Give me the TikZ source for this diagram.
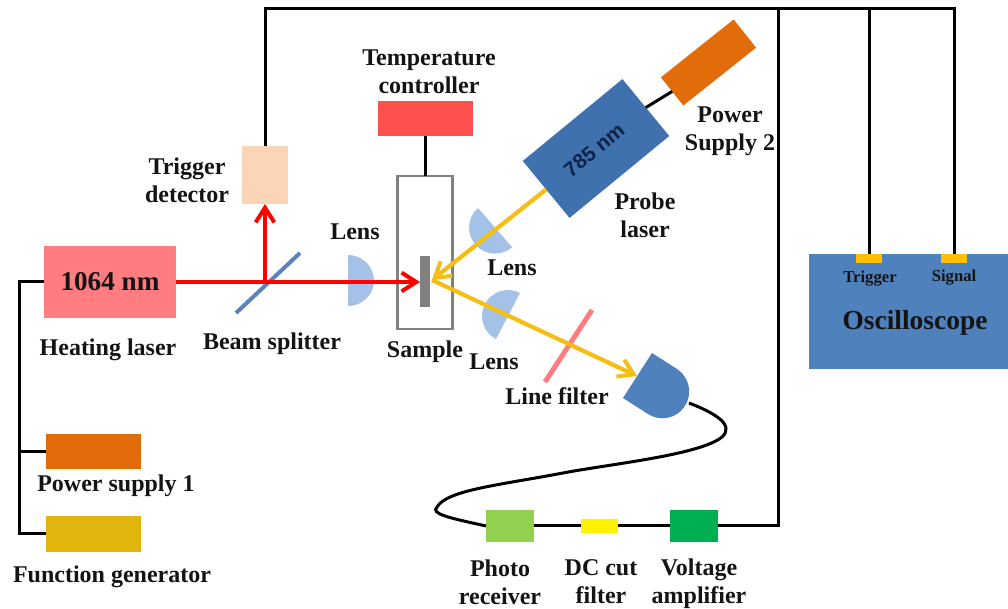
\documentclass[tikz,border=0pt]{standalone}
\usepackage{fontspec}
\setmainfont{Liberation Serif}
\setsansfont{Liberation Sans}
\usetikzlibrary{arrows.meta}
\def\px{0.75pt}
\definecolor{heatc}{HTML}{FF7C80}
\definecolor{orangec}{HTML}{E36C0A}
\definecolor{goldc}{HTML}{E0B50E}
\definecolor{probec}{HTML}{3F71AE}
\definecolor{scopec}{HTML}{4F81BD}
\definecolor{lensc}{HTML}{A4C2E8}
\definecolor{detc}{HTML}{4F81BD}
\definecolor{beamy}{HTML}{F5BE14}
\definecolor{tabc}{HTML}{FFC000}
\definecolor{peach}{HTML}{FBD5B5}
\definecolor{tempc}{HTML}{FF5050}
\definecolor{rxc}{HTML}{92D050}
\definecolor{ampc}{HTML}{00B050}
\definecolor{splitc}{HTML}{5B83B8}
\tikzset{
  lbl/.style={font=\fontsize{18}{21}\selectfont\bfseries, align=center, inner sep=0pt, text=black!92},
  solid box/.style={inner sep=0pt, outer sep=0pt, draw=none},
  wire/.style={draw=black, line width=3*\px, line join=miter},
  redbeam/.style={draw=red, line width=4*\px, -{Straight Barb[length=11pt,width=14pt,line width=3pt]}},
  yelbeam/.style={draw=beamy, line width=4.2*\px, -{Straight Barb[length=11pt,width=14pt,line width=3pt]}},
  lens/.style={fill=lensc, draw=none}
}
\begin{document}
\begin{tikzpicture}[x=0.75pt,y=-0.75pt]
\useasboundingbox (0,0) rectangle (1008,609);
% coordinates of wires
\coordinate (topA) at (265,9);
\coordinate (topB) at (778,9);
\coordinate (topC) at (869,9);
\coordinate (topD) at (954,9);
\coordinate (cornerB) at (778,526);
\coordinate (jl1) at (19,282);
\coordinate (jl2) at (19,451.5);
\coordinate (jl3) at (19,534);
\coordinate (hit) at (432,280);
\coordinate (bsp) at (265,282);
\coordinate (detout) at (689,403);
\coordinate (detin) at (637,376);
\coordinate (sampfront) at (420,282);
% boxes
\node[solid box, fill=heatc, minimum width=132*\px, minimum height=72*\px] (heat) at (110,282) {};
\node[solid box, fill=orangec, minimum width=95*\px, minimum height=35*\px] (ps1) at (93.5,451.5) {};
\node[solid box, fill=goldc, minimum width=95*\px, minimum height=36*\px] (gen) at (93.5,534) {};
\node[solid box, fill=peach, minimum width=46*\px, minimum height=58*\px] (trig) at (265,175) {};
\node[solid box, fill=tempc, minimum width=95*\px, minimum height=35*\px] (temp) at (425,118.5) {};
\node[solid box, draw=black!50, line width=2.6*\px, minimum width=55*\px, minimum height=153*\px] (holder) at (425,252.5) {};
\node[solid box, fill=black!50, minimum width=10*\px, minimum height=51*\px] (samp) at (425,281.5) {};
\node[solid box, fill=probec, rotate=39.4, minimum width=129*\px, minimum height=73.7*\px] (probe) at (596,148.5) {};
\node[solid box, fill=orangec, rotate=38.5, minimum width=93*\px, minimum height=36*\px] (ps2) at (708.5,62.5) {};
\node[solid box, fill=scopec, minimum width=199*\px, minimum height=115*\px] (scope) at (908.5,311.5) {};
\node[solid box, fill=tabc, minimum width=26*\px, minimum height=9*\px] (trtab) at (869,258.5) {};
\node[solid box, fill=tabc, minimum width=26*\px, minimum height=9*\px] (sigtab) at (954,258.5) {};
\node[solid box, fill=rxc, minimum width=48*\px, minimum height=32*\px] (rx) at (510,526) {};
\node[solid box, fill=yellow, minimum width=37*\px, minimum height=14*\px] (dc) at (599.5,526) {};
\node[solid box, fill=ampc, minimum width=48*\px, minimum height=32*\px] (amp) at (694,526) {};
% wires
\draw[wire] (trig.north) -- (topA) -- (topD) -- (sigtab.north);
\draw[wire] (topC) -- (trtab.north);
\draw[wire] (topB) -- (cornerB) -- (amp.east);
\draw[wire] (amp.west) -- (dc.east);
\draw[wire] (dc.west) -- (rx.east);
\draw[wire] (heat.west) -- (jl1) -- (jl3) -- (gen.west);
\draw[wire] (jl2) -- (ps1.west);
\draw[wire] (temp.south) -- (holder.north);
\draw[wire] (probe.east) -- (ps2.west);
\draw[wire] (rx.west) .. controls (450,518) and (430,514) .. (437,507)
  .. controls (447,490) and (500,485) .. (563,473)
  .. controls (610,464) and (700,455) .. (722,437)
  .. controls (735,425) and (715,413) .. (detout);
% lenses
\fill[lens] (348,255) arc[start angle=-90,end angle=90,x radius=26,y radius=25.5] -- cycle;
\fill[lens] (478,208) arc[start angle=229,end angle=49,radius=26] -- cycle;
\fill[lens] (520,293) arc[start angle=-62.5,end angle=-242.5,radius=26] -- cycle;
% beam splitter and line filter
\draw[draw=splitc, line width=4*\px] (300,253) -- (236,313);
\draw[draw=heatc, line width=5*\px] (592,310) -- (545,382);
% detector
\fill[detc] (652,353) -- (677,369) arc[start angle=-57,end angle=123,radius=26.8] -- (623,398) -- cycle;
% beams
\draw[draw=red, line width=4*\px] (heat.east) -- (bsp);
\draw[redbeam] (bsp) -- (sampfront);
\draw[redbeam] (bsp) -- (trig.south);
\draw[yelbeam] (probe.west) -- (hit);
\draw[yelbeam] (hit) -- (detin);
% labels
\node[lbl, font=\fontsize{20.4}{24}\selectfont\bfseries] (tHeat) at (110,282) {1064 nm};
\node[font=\sffamily\bfseries\fontsize{15.5}{17}\selectfont, text={rgb,255:red,15;green,35;blue,70}, rotate=39.4, inner sep=0pt] (t785) at (594,150) {785 nm};
\node[lbl] (tTemp) at (429,71.5) {Temperature\\controller};
\node[lbl] (tTrig) at (187,180.5) {Trigger\\detector};
\node[lbl] (tLens1) at (355,232) {Lens};
\node[lbl] (tBS) at (272,344) {Beam splitter};
\node[lbl] (tHL) at (108,350) {Heating laser};
\node[lbl] (tSamp) at (425,352) {Sample};
\node[lbl] (tLens2) at (512,268) {Lens};
\node[lbl] (tLens3) at (494,362) {Lens};
\node[lbl] (tLF) at (557,396) {Line filter};
\node[lbl] (tProbe) at (645,215.5) {Probe\\laser};
\node[lbl] (tPS2) at (730,131) {Power\\Supply 2};
\node[lbl] (tPS1) at (116,486) {Power supply 1};
\node[lbl] (tFG) at (112,577) {Function generator};
\node[lbl] (tPR) at (500,582) {Photo\\receiver};
\node[lbl] (tDC) at (601,582) {DC cut\\filter};
\node[lbl] (tVA) at (699,584) {Voltage\\amplifier};
\node[lbl, font=\fontsize{12.5}{14}\selectfont\bfseries] (tTr) at (870,279) {Trigger};
\node[lbl, font=\fontsize{12.5}{14}\selectfont\bfseries] (tSi) at (954,278) {Signal};
\node[lbl, font=\fontsize{20.6}{24}\selectfont\bfseries] (tOsc) at (915,323) {Oscilloscope};
\end{tikzpicture}
\end{document}
